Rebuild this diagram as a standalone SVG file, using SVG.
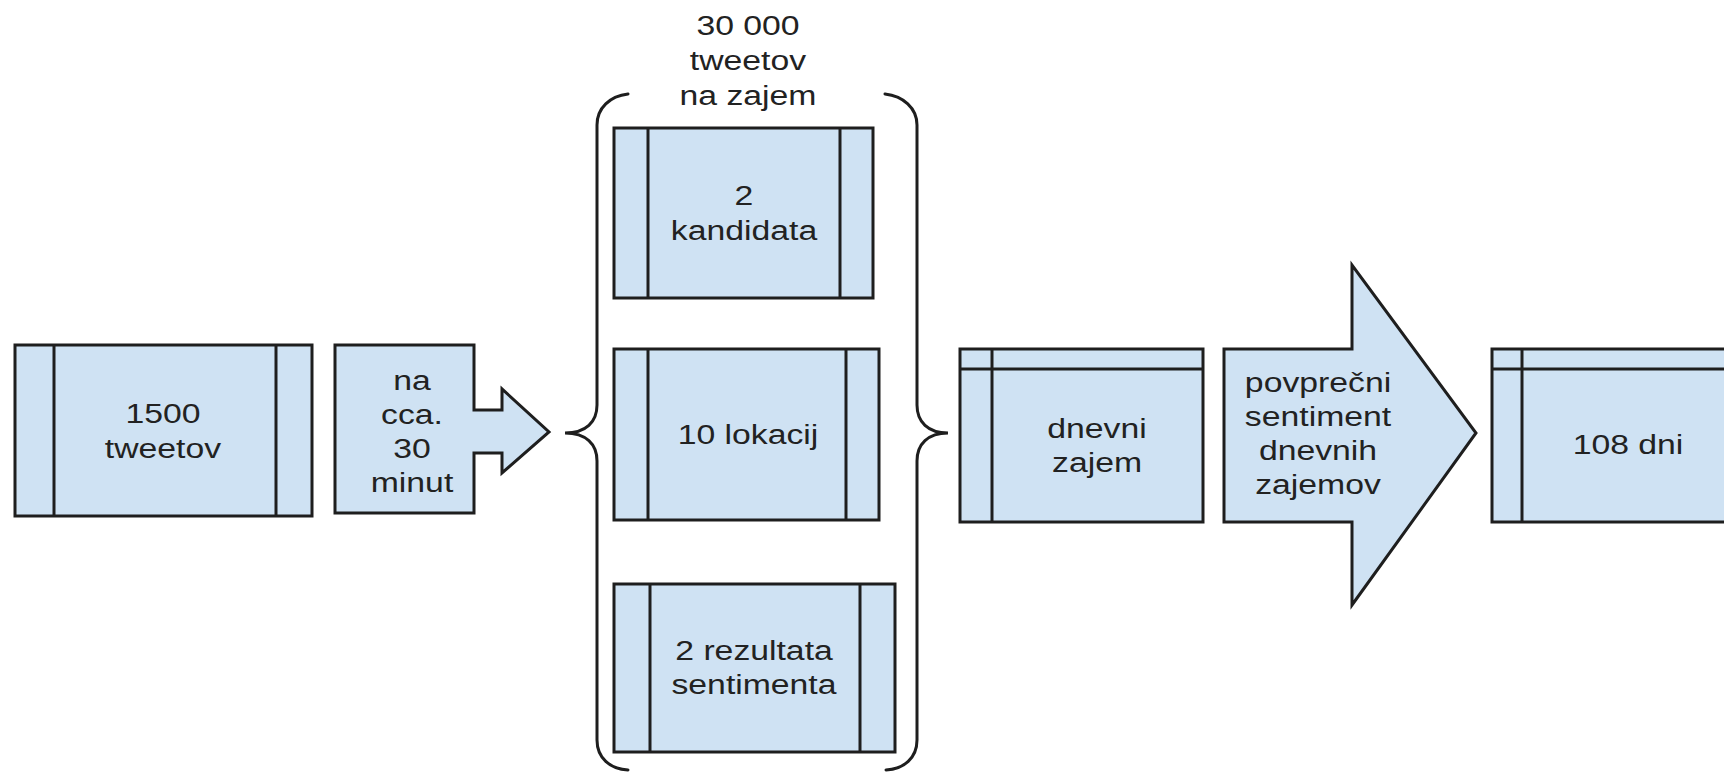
<svg xmlns="http://www.w3.org/2000/svg" width="1724" height="772" viewBox="0 0 1724 772">
<style>
.box{fill:#cfe2f3;stroke:#1e1e1e;stroke-width:3;stroke-linejoin:miter}
.ln{stroke:#1e1e1e;stroke-width:3;fill:none}
.br{stroke:#1e1e1e;stroke-width:3;fill:none;stroke-linecap:round}
.t{font-family:"Liberation Sans",Arial,sans-serif;font-size:27px;fill:#222;text-anchor:middle}
</style>
<rect width="1724" height="772" fill="#ffffff"/>
<g id="n1">
<rect class="box" x="15" y="345" width="297" height="171"/>
<line class="ln" x1="54" y1="345" x2="54" y2="516"/>
<line class="ln" x1="276" y1="345" x2="276" y2="516"/>
<text class="t" transform="translate(163,0) scale(1.25,1)"><tspan x="0" y="423">1500</tspan><tspan x="0" y="458">tweetov</tspan></text>
</g>
<g id="n2">
<polygon class="box" points="335,345 474,345 474,410 502,410 502,389 549,432 502,473 502,453 474,453 474,513 335,513"/>
<text class="t" transform="translate(412,0) scale(1.25,1)"><tspan x="0" y="390">na</tspan><tspan x="0" y="424">cca.</tspan><tspan x="0" y="458">30</tspan><tspan x="0" y="492">minut</tspan></text>
</g>
<g id="group-brace">
<path class="br" d="M628,94 C610,96 597,108 597,125 L597,405 C597,422 586,433 565,433 C586,433 597,444 597,461 L597,740 C597,758 610,769 628,770"/>
<path class="br" d="M885,94 C903,96 917,108 917,125 L917,405 C917,422 928,433 948,433 C928,433 917,444 917,461 L917,740 C917,758 904,769 886,770"/>
<text class="t" transform="translate(748,0) scale(1.25,1)"><tspan x="0" y="35">30 000</tspan><tspan x="0" y="70">tweetov</tspan><tspan x="0" y="105">na zajem</tspan></text>
</g>
<g id="n3">
<rect class="box" x="614" y="128" width="259" height="170"/>
<line class="ln" x1="648" y1="128" x2="648" y2="298"/>
<line class="ln" x1="840" y1="128" x2="840" y2="298"/>
<text class="t" transform="translate(744,0) scale(1.25,1)"><tspan x="0" y="205">2</tspan><tspan x="0" y="240">kandidata</tspan></text>
</g>
<g id="n4">
<rect class="box" x="614" y="349" width="265" height="171"/>
<line class="ln" x1="648" y1="349" x2="648" y2="520"/>
<line class="ln" x1="846" y1="349" x2="846" y2="520"/>
<text class="t" transform="translate(748,0) scale(1.25,1)"><tspan x="0" y="444">10 lokacij</tspan></text>
</g>
<g id="n5">
<rect class="box" x="614" y="584" width="281" height="168"/>
<line class="ln" x1="650" y1="584" x2="650" y2="752"/>
<line class="ln" x1="860" y1="584" x2="860" y2="752"/>
<text class="t" transform="translate(754,0) scale(1.25,1)"><tspan x="0" y="660">2 rezultata</tspan><tspan x="0" y="694">sentimenta</tspan></text>
</g>
<g id="n6">
<rect class="box" x="960" y="349" width="243" height="173"/>
<line class="ln" x1="992" y1="349" x2="992" y2="522"/>
<line class="ln" x1="960" y1="369" x2="1203" y2="369"/>
<text class="t" transform="translate(1097,0) scale(1.25,1)"><tspan x="0" y="438">dnevni</tspan><tspan x="0" y="472">zajem</tspan></text>
</g>
<g id="n7">
<polygon class="box" points="1224,349 1352,349 1352,265 1476,433 1352,605 1352,522 1224,522"/>
<text class="t" transform="translate(1318,0) scale(1.25,1)"><tspan x="0" y="392">povprečni</tspan><tspan x="0" y="426">sentiment</tspan><tspan x="0" y="460">dnevnih</tspan><tspan x="0" y="494">zajemov</tspan></text>
</g>
<g id="n8">
<rect class="box" x="1492" y="349" width="260" height="173"/>
<line class="ln" x1="1522" y1="349" x2="1522" y2="522"/>
<line class="ln" x1="1492" y1="369" x2="1752" y2="369"/>
<text class="t" transform="translate(1628,0) scale(1.25,1)"><tspan x="0" y="454">108 dni</tspan></text>
</g>
<g id="connectors"></g>
</svg>
